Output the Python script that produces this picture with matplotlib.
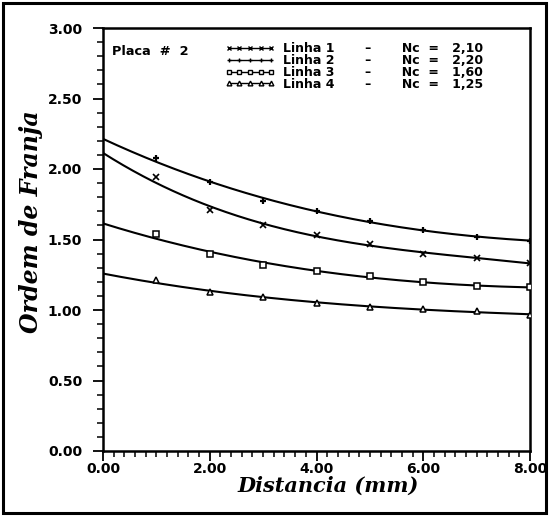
import numpy as np
import matplotlib
matplotlib.use("Agg")
import matplotlib.pyplot as plt
from matplotlib.lines import Line2D
from matplotlib.patches import Rectangle
from matplotlib.ticker import MultipleLocator, FormatStrFormatter

# Distance along the plate (mm); x = 0 holds the Nc value of each line
distancia = [0, 1, 2, 3, 4, 5, 6, 7, 8]

linha1 = [2.10, 1.94, 1.71, 1.60, 1.53, 1.47, 1.40, 1.37, 1.33]
linha2 = [2.20, 2.08, 1.91, 1.77, 1.70, 1.63, 1.57, 1.52, 1.49]
linha3 = [1.60, 1.54, 1.40, 1.32, 1.28, 1.24, 1.20, 1.17, 1.16]
linha4 = [1.25, 1.21, 1.13, 1.09, 1.05, 1.02, 1.01, 0.99, 0.965]

nc_labels = ["2,10", "2,20", "1,60", "1,25"]
serie_nomes = ["Linha 1", "Linha 2", "Linha 3", "Linha 4"]

fig = plt.figure(figsize=(5.49, 5.16), dpi=100)
ax = fig.add_axes([103 / 549, 65 / 516, 427 / 549, 423 / 516])

series = [linha1, linha2, linha3, linha4]
markers = [dict(marker="x", ms=5, mew=1.2, mfc="black"),
           dict(marker="+", ms=5, mew=1.6, mfc="black"),
           dict(marker="s", ms=4, mew=1.1, mfc="white"),
           dict(marker="^", ms=4.5, mew=1.1, mfc="white")]

x = np.array(distancia, dtype=float)
xs = np.linspace(0, 8, 300)
handles = []
for vals, mk in zip(series, markers):
    y = np.array(vals)
    coef = np.polyfit(x, y, 3)
    ax.plot(xs, np.polyval(coef, xs), color="black", lw=1.5, zorder=2)
    ax.plot(x[1:], y[1:], linestyle="none", color="black", zorder=3, **mk)
    small = dict(mk)
    small["ms"] = 3.4
    small["mew"] = 1.0
    handles.append(Line2D([], [], color="black", lw=1.0, **small))

gap1 = " " * 7
gap2 = " " * 7
labels = [f"{n}{gap1}\u2013{gap2}Nc  =   {v}" for n, v in zip(serie_nomes, nc_labels)]
leg = ax.legend(handles, labels, numpoints=5, loc="upper left",
                bbox_to_anchor=(0.286, 0.966), frameon=False,
                handlelength=4.0, handletextpad=0.64, labelspacing=-0.10,
                borderaxespad=0, borderpad=0,
                prop=dict(family="DejaVu Sans", weight="bold", size=9))

ax.text(0.021, 0.945, "Placa  #  2", transform=ax.transAxes,
        fontsize=9.3, fontweight="bold", family="DejaVu Sans",
        va="center", ha="left")

ax.set_xlim(0, 8)
ax.set_ylim(0, 3)
ax.xaxis.set_major_locator(MultipleLocator(2))
ax.xaxis.set_minor_locator(MultipleLocator(0.2))
ax.yaxis.set_major_locator(MultipleLocator(0.5))
ax.yaxis.set_minor_locator(MultipleLocator(0.1))
ax.xaxis.set_major_formatter(FormatStrFormatter("%.2f"))
ax.yaxis.set_major_formatter(FormatStrFormatter("%.2f"))
ax.tick_params(which="major", direction="out", length=7, width=1.3,
               labelsize=10)
ax.tick_params(axis="y", which="major", pad=8)
ax.tick_params(axis="x", which="major", pad=1)
ax.tick_params(which="minor", direction="out", length=4, width=1.1)
for lab in ax.get_xticklabels() + ax.get_yticklabels():
    lab.set_fontweight("bold")
for sp in ax.spines.values():
    sp.set_linewidth(1.8)

ax.set_xlabel("Distancia (mm)", family="DejaVu Serif", style="italic",
              fontweight="bold", fontsize=15)
ax.set_ylabel("Ordem de Franja", family="DejaVu Serif", style="italic",
              fontweight="bold", fontsize=17)
ax.xaxis.set_label_coords(0.527, -0.058)
ax.yaxis.set_label_coords(-0.14, 0.541)

# outer frame around the whole figure
fig.patches.append(Rectangle((0.006, 0.006), 0.988, 0.988,
                             transform=fig.transFigure, fill=False,
                             lw=2.2, edgecolor="black"))

fig.savefig("out.png", dpi=100)
